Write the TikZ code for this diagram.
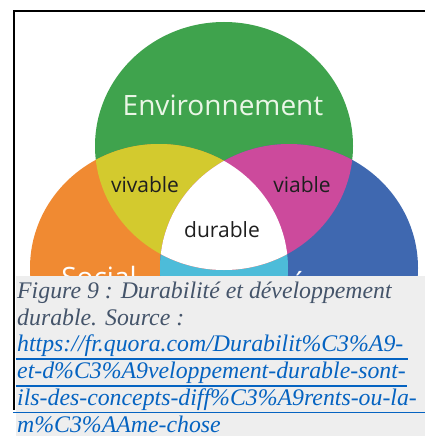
\documentclass[tikz,border=0pt]{standalone}
\usepackage{fontspec}
\setmainfont{Liberation Serif}
\newfontfamily\vennfont{Open Sans}
\usetikzlibrary{positioning}
\definecolor{envgreen}{HTML}{3FA34D}
\definecolor{socorange}{HTML}{F08A32}
\definecolor{ecoblue}{HTML}{3F68B0}
\definecolor{vivyellow}{HTML}{D3CA2E}
\definecolor{viamagenta}{HTML}{CC4A9C}
\definecolor{midcyan}{HTML}{4DBCD9}
\definecolor{capgray}{HTML}{EEEEEE}
\definecolor{capslate}{HTML}{44546A}
\definecolor{linkblue}{HTML}{0563C1}
\definecolor{titlewhite}{HTML}{EAF6E6}
\newcommand{\envcircle}{(224,146) ellipse [x radius=129,y radius=124]}
\newcommand{\soccircle}{(159,268) ellipse [x radius=129,y radius=124]}
\newcommand{\ecocircle}{(289,268) ellipse [x radius=129,y radius=124]}

\begin{document}
\begin{tikzpicture}[x=1pt,y=-1pt,
  venn title/.style={font=\vennfont\fontsize{28}{28}\selectfont,inner sep=0pt,anchor=base},
  venn label/.style={font=\vennfont\fontsize{21}{21}\selectfont,text=black!88,inner sep=0pt,anchor=base},
  cap line/.style={anchor=base west,inner sep=0pt,font=\itshape\fontsize{23.8}{27}\selectfont},
  link rule/.style={draw=linkblue,line width=1.5pt}]

  \useasboundingbox (0,0) rectangle (425,436);
  \fill[white] (0,0) rectangle (425,436);

  % the three circles
  \begin{scope}
    \clip (15,12) rectangle (425,276);
    \fill[envgreen] \envcircle;
    \fill[socorange] \soccircle;
    \fill[ecoblue] \ecocircle;
    \begin{scope}
      \clip \soccircle;
      \fill[midcyan] \ecocircle;
    \end{scope}
    \begin{scope}
      \clip \envcircle;
      \fill[vivyellow] \soccircle;
      \fill[viamagenta] \ecocircle;
      \clip \soccircle;
      \fill[white] \ecocircle;
    \end{scope}

    \node[venn title,text=titlewhite] (env) at (223,115) {Environnement};
    \node[venn title,text=white] (soc) at (99,287) {Social};
    \node[venn title,text=white,anchor=base west] (eco) at (290,297) {Économique};
    \node[venn label] (viv) at (145,192) {vivable};
    \node[venn label] (via) at (302,192) {viable};
    \node[venn label] (dur) at (222,237) {durable};
  \end{scope}

  % caption
  \fill[capgray] (15.5,276) rectangle (425,436);
  \draw[line width=2.5pt] (425,11.2) -- (14.2,11.2) -- (14.2,410);

  \node[cap line,text=capslate] (fig) at (17,298) {Figure 9 : Durabilité et développement};
  \node[cap line,text=capslate] (src) at (17,325) {durable. Source :};
  \node[cap line,text=linkblue] (url1) at (17,351) {https://fr.quora.com/Durabilit\%C3\%A9-};
  \node[cap line,text=linkblue] (url2) at (17,378) {et-d\%C3\%A9veloppement-durable-sont-};
  \node[cap line,text=linkblue] (url3) at (17,405) {ils-des-concepts-diff\%C3\%A9rents-ou-la-};
  \node[cap line,text=linkblue] (url4) at (17,432) {m\%C3\%AAme-chose};

  \draw[link rule] (15.5,359) -- (408,359);
  \draw[link rule] (15.5,386) -- (407,386);
  \draw[link rule] (13,412.5) -- (425,412.5);

\end{tikzpicture}
\end{document}
